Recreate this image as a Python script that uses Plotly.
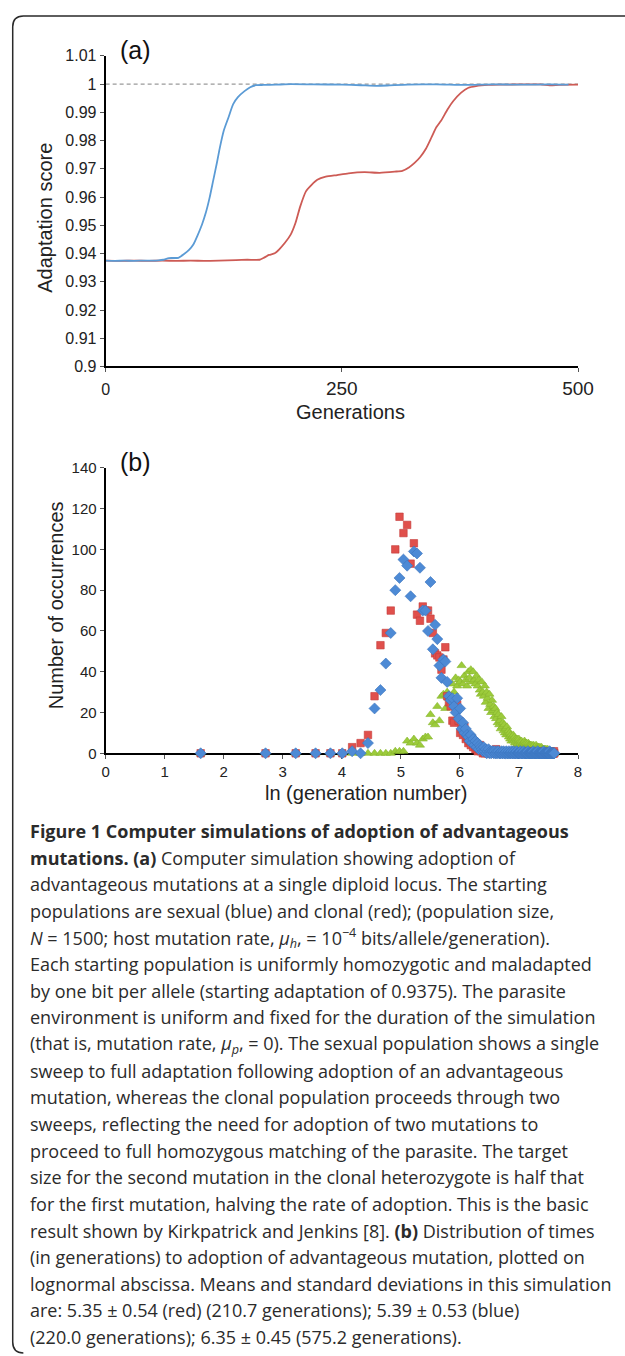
import numpy as np
import plotly.graph_objects as go

W, H = 625, 1356

# ---------------- panel (a): adaptation score vs generations ----------------
sexual_gen = [0, 10, 20, 30, 40, 50, 56, 61, 67, 77, 83, 88, 93, 97, 102, 106, 110, 114, 118, 121,
              125, 130, 135, 140, 147, 153, 159, 167, 180, 196, 220, 250, 270, 286, 298, 320, 350, 380,
              410, 440, 470, 490]
sexual_score = [0.9375, 0.9374, 0.9375, 0.9374, 0.9375, 0.9375, 0.9376, 0.9378, 0.9384, 0.9385,
                0.9398, 0.9412, 0.9433, 0.9462, 0.9503, 0.9544, 0.9597, 0.9661, 0.9725, 0.9777,
                0.9835, 0.9882, 0.9929, 0.9954, 0.9975, 0.9989, 0.9996, 0.9997, 0.9998, 1.0,
                0.9999, 0.9998, 0.9996, 0.9994, 0.9995, 0.9998, 0.9999, 0.9997, 0.9999, 0.9998,
                0.9999, 0.9998]

clonal_gen = [0, 15, 30, 45, 60, 75, 90, 105, 120, 138, 150, 163, 167, 173, 179, 184, 190, 196, 201, 206,
              212, 218, 224, 233, 245, 257, 274, 290, 306, 314, 321, 327, 333, 339, 345, 350, 355, 362,
              368, 376, 384, 392, 405, 420, 440, 460, 470, 480, 500]
clonal_score = [0.9375, 0.9374, 0.9375, 0.9374, 0.9375, 0.9374, 0.9375, 0.9374, 0.9375, 0.9377,
                0.9378, 0.9378, 0.9384, 0.9395, 0.9401, 0.9416, 0.9439, 0.9468, 0.9509, 0.9567,
                0.9620, 0.9643, 0.9661, 0.9672, 0.9678, 0.9684, 0.9688, 0.9686, 0.9690, 0.9693,
                0.9705, 0.9721, 0.9742, 0.9771, 0.9812, 0.9847, 0.9870, 0.9911, 0.9940, 0.9969,
                0.9987, 0.9993, 0.9997, 0.9998, 0.9999, 0.9999, 0.9996, 0.9997, 0.9998]

full_adaptation = 1.0
a_xticks = [0, 250, 500]
a_xticklabels = ["<span style='font-size:16px'>0</span>", "250", "500"]
a_yticks = [0.90, 0.91, 0.92, 0.93, 0.94, 0.95, 0.96, 0.97, 0.98, 0.99, 1.00, 1.01]
a_yticklabels = ["0.9", "0.91", "0.92", "0.93", "0.94", "0.95", "0.96", "0.97", "0.98", "0.99", "1", "1.01"]

# ---------------- panel (b): time-to-adoption histograms ----------------
# generation bins (centres, width 10)
gen_bins = list(range(5, 2000, 10))

red_counts = [
    0, 0, 0, 0, 0, 0, 3, 5, 9, 28,
    53, 59, 70, 100, 116, 108, 112, 93, 103, 68,
    65, 72, 70, 70, 66, 59, 49, 48, 47, 41,
    46, 52, 28, 25, 23, 16, 15, 22, 24, 16,
    10, 12, 9, 13, 7, 8, 5, 6, 4, 7,
    3, 5, 2, 3, 1, 2, 4, 1, 2, 0,
    1, 0, 2, 1, 0, 1, 0, 0, 1, 0,
    0, 1, 0, 0, 2, 0, 1, 0, 0, 1,
    0, 0, 1, 0, 0, 0, 1, 0, 0, 0,
    1, 0, 0, 0, 0, 1, 0, 0, 0, 0,
    0, 0, 1, 0, 0, 0, 0, 0, 1, 0,
    0, 0, 0, 0, 0, 1, 0, 0, 0, 0,
    0, 0, 0, 0, 0, 0, 0, 0, 1, 0,
    0, 0, 0, 0, 0, 0, 0, 0, 0, 0,
    0, 1, 0, 0, 0, 0, 0, 0, 0, 0,
    0, 0, 0, 0, 0, 0, 0, 1, 0, 0,
    0, 0, 0, 0, 0, 0, 0, 0, 0, 0,
    0, 0, 0, 0, 0, 0, 1, 0, 0, 0,
    0, 0, 0, 0, 0, 0, 0, 0, 0, 0,
    0, 0, 0, 0, 0, 0, 0, 0, 1, 0,
]

blue_counts = [
    0, 0, 0, 0, 0, 0, 1, 0, 5, 22,
    31, 44, 59, 80, 86, 95, 92, 77, 99, 98,
    91, 70, 70, 60, 84, 51, 63, 56, 43, 37,
    46, 45, 35, 28, 26, 27, 23, 20, 27, 17,
    22, 12, 15, 10, 12, 9, 8, 6, 9, 5,
    7, 4, 6, 3, 5, 2, 4, 3, 2, 1,
    3, 1, 2, 0, 1, 2, 0, 1, 0, 1,
    1, 0, 1, 0, 0, 1, 0, 1, 0, 0,
    0, 1, 0, 0, 1, 0, 0, 0, 1, 0,
    0, 0, 1, 0, 0, 0, 1, 0, 0, 0,
    1, 0, 0, 0, 0, 1, 0, 0, 0, 0,
    0, 0, 1, 0, 0, 0, 0, 0, 1, 0,
    0, 0, 0, 0, 0, 0, 0, 1, 0, 0,
    0, 0, 0, 0, 0, 0, 0, 0, 0, 1,
    0, 0, 0, 0, 0, 0, 0, 0, 0, 0,
    1, 0, 0, 0, 0, 0, 0, 0, 0, 0,
    0, 0, 0, 0, 0, 0, 1, 0, 0, 0,
    0, 0, 0, 0, 0, 0, 0, 0, 0, 0,
    0, 0, 0, 0, 1, 0, 0, 0, 0, 0,
    0, 0, 0, 0, 0, 0, 0, 0, 0, 0,
]

green_counts = [
    0, 0, 0, 0, 0, 0, 0, 0, 0, 0,
    0, 0, 0, 1, 1, 1, 6, 5, 7, 5,
    4, 7, 8, 8, 19, 15, 14, 23, 16, 28,
    29, 22, 30, 27, 25, 34, 30, 37, 33, 36,
    35, 43, 34, 38, 36, 33, 40, 37, 41, 35,
    40, 36, 34, 38, 33, 36, 31, 29, 35, 30,
    28, 33, 25, 30, 27, 22, 29, 24, 20, 26,
    21, 23, 18, 22, 17, 20, 15, 19, 14, 16,
    12, 18, 13, 15, 11, 14, 10, 12, 9, 13,
    10, 11, 8, 10, 7, 9, 6, 8, 7, 9,
    6, 8, 5, 7, 6, 4, 7, 5, 6, 7,
    4, 6, 5, 3, 6, 4, 5, 3, 5, 4,
    6, 5, 3, 4, 5, 2, 4, 3, 5, 4,
    2, 4, 3, 4, 3, 2, 4, 3, 2, 3,
    4, 2, 3, 1, 3, 2, 4, 2, 3, 2,
    1, 3, 2, 3, 1, 2, 3, 2, 1, 2,
    3, 1, 2, 2, 1, 2, 0, 1, 2, 1,
    2, 1, 0, 2, 1, 1, 0, 1, 2, 1,
    1, 0, 1, 1, 0, 1, 0, 0, 1, 0,
    1, 0, 0, 1, 0, 0, 0, 1, 0, 0,
]

b_xticks = [0, 1, 2, 3, 4, 5, 6, 7, 8]
b_yticks = [0, 20, 40, 60, 80, 100, 120, 140]

caption_lines = [
    "<b>Figure 1 Computer simulations of adoption of advantageous</b>",
    "<b>mutations. (a)</b> Computer simulation showing adoption of",
    "advantageous mutations at a single diploid locus. The starting",
    "populations are sexual (blue) and clonal (red); (population size,",
    "<i>N</i> = 1500; host mutation rate, <i>μ<sub>h</sub></i>, = 10<sup>−4</sup> bits/allele/generation).",
    "Each starting population is uniformly homozygotic and maladapted",
    "by one bit per allele (starting adaptation of 0.9375). The parasite",
    "environment is uniform and fixed for the duration of the simulation",
    "(that is, mutation rate, <i>μ<sub>p</sub></i>, = 0). The sexual population shows a single",
    "sweep to full adaptation following adoption of an advantageous",
    "mutation, whereas the clonal population proceeds through two",
    "sweeps, reflecting the need for adoption of two mutations to",
    "proceed to full homozygous matching of the parasite. The target",
    "size for the second mutation in the clonal heterozygote is half that",
    "for the first mutation, halving the rate of adoption. This is the basic",
    "result shown by Kirkpatrick and Jenkins [8]. <b>(b)</b> Distribution of times",
    "(in generations) to adoption of advantageous mutation, plotted on",
    "lognormal abscissa. Means and standard deviations in this simulation",
    "are: 5.35 ± 0.54 (red) (210.7 generations); 5.39 ± 0.53 (blue)",
    "(220.0 generations); 6.35 ± 0.45 (575.2 generations).",
]


def px(x):
    return x / W


def py(y):
    return 1 - y / H


AX_FONT = "Liberation Sans, Arial, sans-serif"
CAP_FONT = "Open Sans, Lato, sans-serif"

fig = go.Figure()

# panel (a)
fig.add_trace(go.Scatter(x=[0, 500], y=[full_adaptation, full_adaptation], mode="lines",
                         line=dict(color="#9a9a9a", width=1.2, dash="4px,3px"),
                         xaxis="x", yaxis="y", hoverinfo="skip"))
fig.add_trace(go.Scatter(x=clonal_gen, y=clonal_score, mode="lines",
                         line=dict(color="#cd5b55", width=1.8, shape="spline", smoothing=0.6),
                         xaxis="x", yaxis="y"))
fig.add_trace(go.Scatter(x=sexual_gen, y=sexual_score, mode="lines",
                         line=dict(color="#5b9bd5", width=1.8, shape="spline", smoothing=0.6),
                         xaxis="x", yaxis="y"))

# panel (b)
ln_gen = np.log(np.array(gen_bins, dtype=float))
fig.add_trace(go.Scatter(x=ln_gen, y=green_counts, mode="markers", cliponaxis=False,
                         marker=dict(symbol="triangle-up", size=8, color="#9ccb3b",
                                     line=dict(color="#86b52c", width=0.6)),
                         xaxis="x2", yaxis="y2"))
fig.add_trace(go.Scatter(x=ln_gen, y=red_counts, mode="markers", cliponaxis=False,
                         marker=dict(symbol="square", size=7.5, color="#e0504c",
                                     line=dict(color="#c43c3a", width=0.6)),
                         xaxis="x2", yaxis="y2"))
fig.add_trace(go.Scatter(x=ln_gen, y=blue_counts, mode="markers", cliponaxis=False,
                         marker=dict(symbol="diamond", size=8.5, color="#4d8ad5",
                                     line=dict(color="#3a73bd", width=0.6)),
                         xaxis="x2", yaxis="y2"))

axis_common = dict(showline=True, linecolor="black", linewidth=2, showgrid=False, zeroline=False,
                   ticks="outside", ticklen=4, tickwidth=1, tickcolor="#555",
                   tickfont=dict(family=AX_FONT, color="#222"))

x_dom = [px(105), px(593)]
fig.update_layout(
    width=W, height=H, margin=dict(l=0, r=0, t=0, b=0),
    paper_bgcolor="white", plot_bgcolor="white", showlegend=False,
    xaxis=dict(axis_common, domain=x_dom, anchor="y", range=[0, 500],
               tickmode="array", tickvals=a_xticks, ticktext=a_xticklabels,
               tickfont=dict(family=AX_FONT, size=19, color="#222")),
    yaxis=dict(axis_common, domain=[py(362.3), py(47.5)], anchor="x", range=[0.9, 1.01],
               tickmode="array", tickvals=a_yticks, ticktext=a_yticklabels,
               tickfont=dict(family=AX_FONT, size=16, color="#222")),
    xaxis2=dict(axis_common, domain=x_dom, anchor="y2", range=[0, 8],
                tickmode="array", tickvals=b_xticks, layer="below traces",
                tickfont=dict(family=AX_FONT, size=15, color="#222")),
    yaxis2=dict(axis_common, domain=[py(754.3), py(465)], anchor="x2", range=[0, 140],
                tickmode="array", tickvals=b_yticks,
                tickfont=dict(family=AX_FONT, size=15, color="#222")),
)

annotations = [
    dict(text="(a)", x=px(136), y=py(42), font=dict(family=AX_FONT, size=25, color="#111")),
    dict(text="(b)", x=px(136), y=py(459), font=dict(family=AX_FONT, size=25, color="#111")),
    dict(text="Generations", x=px(358), y=py(408), font=dict(family=AX_FONT, size=20, color="#222")),
    dict(text="Adaptation score", x=px(43), y=py(212), textangle=-90,
         font=dict(family=AX_FONT, size=20, color="#222")),
    dict(text="ln (generation number)", x=px(374), y=py(795), font=dict(family=AX_FONT, size=20, color="#222")),
    dict(text="Number of occurrences", x=px(54), y=py(604), textangle=-90,
         font=dict(family=AX_FONT, size=20, color="#222")),
]
for a in annotations:
    a.update(xref="paper", yref="paper", showarrow=False, xanchor="center", yanchor="middle")

for i, line in enumerate(caption_lines):
    annotations.append(dict(text=line, xref="paper", yref="paper", x=px(25), y=py(833 + 27 * i),
                            xanchor="left", yanchor="middle", showarrow=False,
                            font=dict(family=CAP_FONT, size=18, color="#2b2b2b")))
fig.update_layout(annotations=annotations)

# rounded frame around figure and caption
frame = (f"M {px(650)},{py(7)} L {px(20)},{py(7)} Q {px(9)},{py(7)} {px(9)},{py(18)} "
         f"L {px(9)},{py(1351)} Q {px(9)},{py(1362)} {px(20)},{py(1362)}")
fig.add_shape(type="path", path=frame, xref="paper", yref="paper",
              line=dict(color="#2a2a2a", width=1.5))

fig.write_html("out.html")
